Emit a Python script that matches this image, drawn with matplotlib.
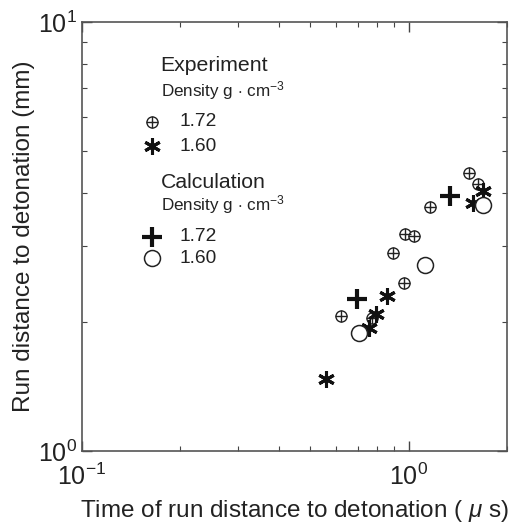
import numpy as np
import matplotlib
matplotlib.use('Agg')
import matplotlib.pyplot as plt
from matplotlib.ticker import NullFormatter

plt.rcParams['font.family'] = ['Liberation Sans', 'DejaVu Sans']
plt.rcParams['mathtext.fontset'] = 'custom'
plt.rcParams['mathtext.rm'] = 'Liberation Sans'
plt.rcParams['mathtext.it'] = 'Liberation Sans:italic'

# datos
exp172_t = [1.53, 1.63, 1.16, 0.975, 1.04, 0.895, 0.968, 0.621, 0.77]
exp172_d = [4.45, 4.19, 3.70, 3.20, 3.17, 2.90, 2.47, 2.06, 2.04]
exp160_t = [0.557, 0.756, 0.797, 0.857, 1.57, 1.69]
exp160_d = [1.47, 1.94, 2.09, 2.30, 3.78, 4.03]
calc172_t = [0.695, 1.34]
calc172_d = [2.26, 3.92]
calc160_t = [0.703, 1.12, 1.69]
calc160_d = [1.88, 2.71, 3.74]

xticks = [0.1, 1.0]
xticklabels = [r'$10^{-1}$', r'$10^{0}$']
yticks = [1.0, 10.0]
yticklabels = [r'$10^{0}$', r'$10^{1}$']

txt = '#222222'

fig = plt.figure(figsize=(5.27, 5.25), dpi=100)
ax = fig.add_axes([0.1556, 0.141, 0.8064, 0.817])
ax.set_xscale('log')
ax.set_yscale('log')
ax.set_xlim(0.1, 2.0)
ax.set_ylim(1, 10)

# asterisco de 6 brazos
aster = (6, 2, 0)

ax.plot(exp172_t, exp172_d, 'o', ms=8, mfc='white', mec='#222222', mew=1.0, ls='none')
ax.plot(exp172_t, exp172_d, '+', ms=8, mec='#222222', mew=1.0, ls='none')
ax.plot(exp160_t, exp160_d, marker=aster, ms=12, mec='#111111', mew=2.2, ls='none')
ax.plot(calc172_t, calc172_d, '+', ms=14, mec='#111111', mew=3.0, ls='none')
ax.plot(calc160_t, calc160_d, 'o', ms=11.5, mfc='white', mec='#222222', mew=1.1, ls='none')

# leyenda manual
def ax_xy(px, py):
    return (px - 82) / 425, (451 - py) / 429

tr = ax.transAxes
x0, y0 = ax_xy(160.7, 70.7)
ax.text(x0, y0, 'Experiment', transform=tr, fontsize=15.3, color=txt, va='baseline')
x0, y0 = ax_xy(160.7, 96)
ax.text(x0, y0, r'Density g $\cdot$ cm$^{-3}$', transform=tr, fontsize=12.3, color=txt, va='baseline')
x0, y0 = ax_xy(160.7, 188)
ax.text(x0, y0, 'Calculation', transform=tr, fontsize=15.3, color=txt, va='baseline')
x0, y0 = ax_xy(160.7, 210.7)
ax.text(x0, y0, r'Density g $\cdot$ cm$^{-3}$', transform=tr, fontsize=12.3, color=txt, va='baseline')

mx = ax_xy(151.7, 0)[0]
tx = ax_xy(179.3, 0)[0]
rows = [(121.7, '1.72'), (146, '1.60'), (236.7, '1.72'), (258.3, '1.60')]
for i, (py, lab) in enumerate(rows):
    yy = ax_xy(0, py)[1]
    if i == 0:
        ax.plot([mx], [yy], 'o', ms=8, mfc='white', mec='#222222', mew=1.0, transform=tr, clip_on=False)
        ax.plot([mx], [yy], '+', ms=8, mec='#222222', mew=1.0, transform=tr, clip_on=False)
    elif i == 1:
        ax.plot([mx], [yy], marker=aster, ms=12, mec='#111111', mew=2.2, transform=tr, clip_on=False)
    elif i == 2:
        ax.plot([mx], [yy], '+', ms=14, mec='#111111', mew=3.0, transform=tr, clip_on=False)
    else:
        ax.plot([mx], [yy], 'o', ms=11.5, mfc='white', mec='#222222', mew=1.1, transform=tr, clip_on=False)
    ax.text(tx, yy, lab, transform=tr, fontsize=13.8, color=txt, va='center')

ax.set_xticks(xticks)
ax.set_xticklabels(xticklabels)
ax.set_yticks(yticks)
ax.set_yticklabels(yticklabels)
ax.xaxis.set_minor_formatter(NullFormatter())
ax.yaxis.set_minor_formatter(NullFormatter())
ax.tick_params(which='both', direction='in', top=True, right=True, colors='#444444',
               labelcolor=txt, labelsize=18)
ax.tick_params(which='major', length=7, width=1.0)
ax.tick_params(which='minor', length=3.5, width=0.8)
ax.tick_params(axis='x', which='major', pad=9)
for s in ax.spines.values():
    s.set_color('#555555')
    s.set_linewidth(1.2)

ax.set_xlabel(r'Time of run distance to detonation ( $\mu$ s)', fontsize=17.5, color=txt, labelpad=6)
ax.set_ylabel('Run distance to detonation (mm)', fontsize=17.5, color=txt, labelpad=2)

fig.savefig('out.png', dpi=100)
